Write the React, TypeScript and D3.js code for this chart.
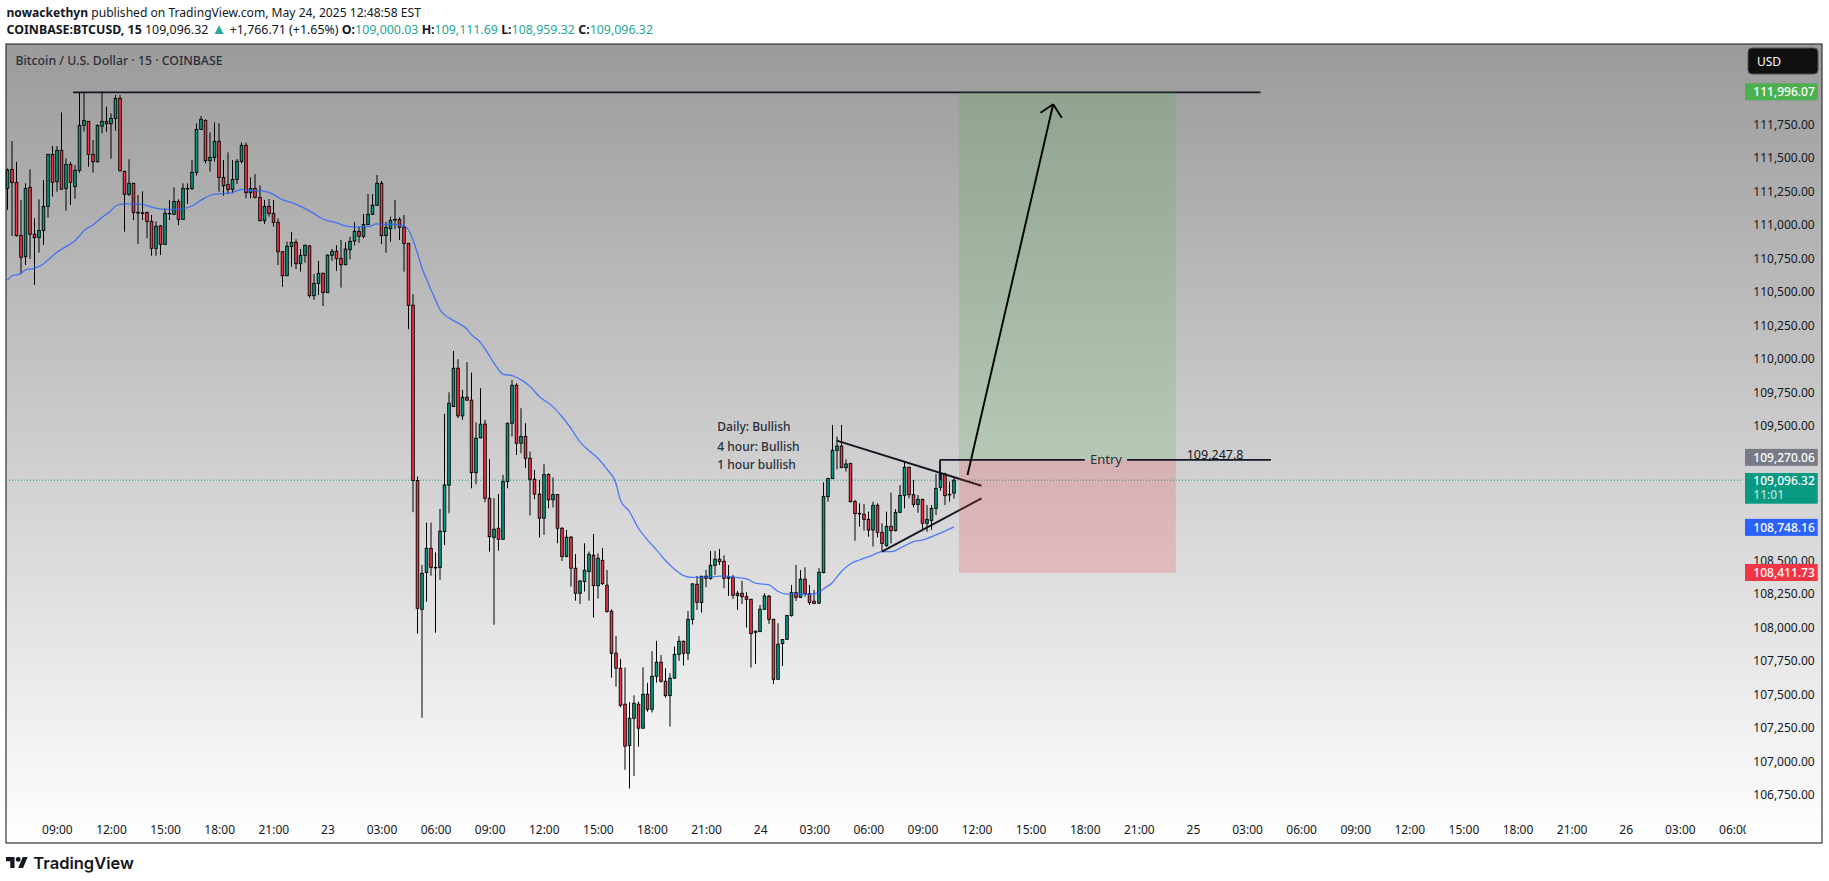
import { useEffect, useRef } from 'react';
import * as d3 from 'd3';

const width = 1829;
const height = 881;
const font = '"Noto Sans", sans-serif';

// 15 min candles
const opens = [111272,111414,111317,110922,110763,111280,110930,110905,110959,111138,111526,111322,111556,111272,111451,111285,111407,111742,111772,111526,111471,111735,111772,111754,111794,111943,111399,111228,111310,111093,111090,111093,111026,110825,110992,110855,111086,111079,111175,111041,111272,111272,111392,111712,111779,111479,111503,111623,111354,111302,111265,111339,111474,111593,111240,111272,111205,111031,111138,111086,111019,110800,110621,110838,110870,110711,110773,110843,110472,110564,110639,110495,110773,110803,110751,110703,110815,110880,110952,110915,111002,111079,111146,111310,110920,110972,111041,111041,110982,110862,110401,109094,108133,108409,108588,108446,108446,108713,109059,109645,109931,109576,109715,109693,109153,109412,109514,108962,108669,108738,108656,109086,109521,109804,109372,109422,109260,109103,108992,108813,109138,108950,108989,108738,108527,108671,108440,108253,108340,108415,108537,108310,108499,108313,108119,107806,107694,107426,107118,107321,107426,107247,107500,107388,107634,107739,107597,107490,107620,107798,107895,107806,108059,108320,108184,108380,108363,108462,108507,108492,108365,108372,108236,108253,108228,108208,107962,107967,108134,108231,108059,107612,107878,107910,108087,108258,108223,108358,108251,108194,108179,108407,108973,109108,109319,109351,109190,109222,108936,108849,108842,108804,108725,108909,108707,108608,108752,108720,108857,108983,109192,108988,108916,108953,108775,108797,108886,109043,109142,108991,109000.03];
const highs = [111421,111625,111471,111185,111310,111414,111049,111190,111335,111528,111588,111588,111839,111496,111471,111446,111986,111986,111774,111633,111749,111996,111881,111832,111968,111968,111404,111489,111312,111223,111250,111098,111074,111024,110999,111123,111185,111280,111190,111310,111310,111484,111757,111812,111787,111690,111764,111757,111484,111541,111484,111491,111615,111613,111354,111379,111295,111186,111193,111186,111049,110803,110875,110947,110892,110820,110853,110848,110634,110731,110644,110780,110820,110848,110887,110870,110912,111021,110987,111081,111230,111230,111372,111327,111024,111061,111186,111056,111074,110865,110483,109123,108464,108780,108780,108558,108882,109591,109752,110060,109998,109770,109976,109899,109528,109782,109546,109255,108962,108994,109136,109525,109844,109819,109633,109521,109310,109173,109099,109215,109148,109116,108992,108745,108725,108681,108546,108350,108626,108564,108695,108551,108589,108427,108134,107935,107764,107699,107441,107493,107446,107702,107585,107821,107898,107793,107694,107657,107856,107935,107900,108121,108328,108382,108382,108427,108569,108569,108584,108536,108464,108390,108271,108345,108261,108212,107975,108166,108253,108241,108062,108030,107912,108092,108315,108464,108427,108447,108315,108278,108440,109080,109114,109508,109421,109508,109252,109225,108950,108924,108919,108862,108936,108924,108775,108862,109003,108880,109060,109234,109197,109098,108986,108958,108911,108911,109142,109160,109152,109085,109111.69];
const lows = [111111,110917,110912,110639,110701,110746,110552,110793,110850,111054,111210,111248,111260,111106,111148,111195,111389,111695,111434,111389,111465,111682,111695,111494,111702,111397,110949,111215,111036,110857,111036,110900,110770,110770,110775,110850,111036,111074,110999,111038,111156,111260,111367,111708,111459,111397,111471,111248,111218,111230,111235,111305,111459,111198,111198,111198,111028,111007,111061,110987,110701,110539,110618,110689,110671,110651,110718,110457,110440,110477,110395,110492,110731,110656,110532,110700,110743,110848,110867,110900,111000,111074,111141,110857,110793,110875,110967,110887,110651,110222,108858,107952,107325,108190,108384,107959,108354,108614,108850,109642,109558,109546,109690,109036,109066,109410,108932,108563,108019,108570,108653,109036,109422,109285,109297,109186,108833,108954,108669,108689,108887,108892,108626,108494,108522,108303,108198,108174,108266,108198,108072,108213,108315,108109,107624,107557,107403,106936,106797,106891,107110,107244,107371,107364,107587,107587,107475,107259,107617,107749,107714,107756,108020,108129,108109,108298,108353,108390,108464,108290,108233,108211,108129,108174,107997,107699,107726,107965,108129,108025,107577,107610,107711,107905,108079,108196,108220,108228,108166,108174,108176,108402,108936,109104,109177,109188,109160,108930,108645,108750,108720,108675,108601,108670,108563,108601,108625,108715,108850,108886,108961,108894,108854,108720,108712,108725,108837,109018,108911,108936,108959.32];
const closes = [111409,111315,110920,110758,111272,110930,110905,110959,111138,111526,111317,111556,111267,111451,111317,111407,111742,111779,111526,111471,111742,111772,111754,111794,111943,111404,111228,111310,111093,111090,111088,111026,110825,110989,110855,111086,111084,111175,111041,111272,111270,111392,111712,111787,111479,111503,111623,111354,111292,111265,111339,111474,111593,111240,111272,111205,111031,111138,111084,111019,110800,110621,110840,110870,110711,110773,110848,110472,110564,110639,110495,110775,110803,110748,110703,110820,110877,110952,110915,111002,111079,111146,111310,110920,110982,111034,111039,110982,110862,110400,109094,108141,108402,108588,108446,108444,108716,109061,109670,109931,109576,109715,109693,109153,109409,109514,108962,108676,108731,108656,109086,109521,109804,109372,109422,109260,109103,108992,108813,109138,108950,108989,108738,108527,108671,108440,108253,108345,108425,108544,108310,108514,108325,108117,107806,107694,107418,107113,107321,107433,107247,107500,107388,107634,107739,107597,107490,107620,107798,107895,107806,108059,108323,108186,108380,108365,108462,108507,108489,108365,108375,108238,108253,108228,108208,107952,107970,108134,108233,108059,107612,107873,107908,108087,108258,108223,108358,108251,108184,108176,108410,108976,109108,109319,109351,109190,109217,108936,108847,108847,108804,108725,108909,108707,108625,108752,108720,108857,108983,109192,108988,108916,108953,108775,108804,108886,109035,109142,108981,108989,109096.32];

// moving average, read at these bars
const maBars = [0,1,3,4,6,8,9,11,13,15,16,17,19,21,23,24,26,28,30,32,34,36,38,41,43,46,48,50,52,54,56,59,61,63,66,68,70,73,75,77,80,82,84,86,88,89,90,91,92,93,94,95,96,97,99,102,103,105,106,108,109,110,112,114,116,118,121,123,125,127,129,131,133,135,136,138,140,142,144,146,148,150,152,155,159,161,164,166,169,171,173,175,178,180,181,183,185,187,189,192,194,196,199,201,203,206,208,210];
const maValues = [110589,110619,110636,110664,110676,110708,110738,110795,110838,110882,110917,110957,110999,111056,111106,111141,111156,111156,111153,111133,111118,111116,111118,111141,111185,111230,111233,111243,111265,111255,111255,111228,111188,111168,111123,111086,111044,111017,110992,110984,110987,111007,111004,111004,110992,110962,110888,110788,110677,110595,110515,110441,110366,110329,110286,110222,110180,110122,110073,109968,109919,109886,109876,109844,109794,109720,109645,109571,109484,109384,109317,109260,109178,109074,108949,108863,108738,108651,108577,108497,108433,108385,108371,108373,108383,108373,108361,108328,108316,108266,108246,108250,108245,108258,108285,108332,108414,108471,108501,108538,108563,108563,108606,108638,108650,108688,108717,108748.16];

const priceTicks = [111750,111500,111250,111000,110750,110500,110250,110000,109750,109500,108500,108250,108000,107750,107500,107250,107000,106750];
const timeLabels = ['09:00','12:00','15:00','18:00','21:00','23','03:00','06:00','09:00','12:00','15:00','18:00','21:00','24','03:00','06:00','09:00','12:00','15:00','18:00','21:00','25','03:00','06:00','09:00','12:00','15:00','18:00','21:00','26','03:00','06:00'];
const timeBars = timeLabels.map((_, k) => 11 + k * 12);

const priceLabels = [
  { text: '111,996.07', price: 111996.07, color: '#4caf50' },
  { text: '109,270.06', price: 109270.06, color: '#787b86' },
  { text: '108,748.16', price: 108748.16, color: '#2962ff' },
  { text: '108,411.73', price: 108411.73, color: '#f23645' },
];
const lastPrice = 109096.32;
const target = 111988;
const entry = 109247.8;
const stop = 108405;

const xScale = d3.scaleLinear().domain([0, 210]).range([7.3, 954]);
const yScale = d3.scaleLinear().domain([111750, 106750]).range([124.3, 794.85]);

export default function App() {
  const priceAxisRef = useRef<SVGGElement>(null);
  const timeAxisRef = useRef<SVGGElement>(null);

  useEffect(() => {
    const priceAxis = d3.axisRight(yScale).tickValues(priceTicks).tickSize(0).tickPadding(0)
      .tickFormat((d) => d3.format(',.2f')(Number(d)));
    const g = d3.select(priceAxisRef.current!);
    g.selectAll('*').remove();
    g.call(priceAxis as any);
    g.select('.domain').remove();
    g.attr('font-family', font).attr('font-size', 12).selectAll('text').attr('fill', '#131722');

    const timeAxis = d3.axisBottom(xScale).tickValues(timeBars).tickSize(0).tickPadding(0)
      .tickFormat((_, k) => timeLabels[k]);
    const t = d3.select(timeAxisRef.current!);
    t.selectAll('*').remove();
    t.call(timeAxis as any);
    t.select('.domain').remove();
    t.attr('font-family', font).attr('font-size', 12).selectAll('text').attr('fill', '#131722');
  }, []);

  const maPath = d3.line<number>()
    .x((d) => xScale(d))
    .y((_, k) => yScale(maValues[k]))
    .curve(d3.curveMonotoneX)(maBars);

  const segment = (b0: number, p0: number, b1: number, p1: number, w = 1.9, c = '#131722') => (
    <line x1={xScale(b0)} y1={yScale(p0)} x2={xScale(b1)} y2={yScale(p1)} stroke={c} strokeWidth={w} />
  );

  return (
    <svg width={width} height={height} style={{ position: 'absolute', left: 0, top: 0 }}>
      <defs>
        <linearGradient id="bg" x1="0" y1="0" x2="0" y2="1">
          <stop offset="0" stopColor="#9b9b9b" />
          <stop offset="1" stopColor="#ffffff" />
        </linearGradient>
        <clipPath id="timeClip"><rect x={6} y={800} width={1740} height={44} /></clipPath>
      </defs>
      <rect width={width} height={height} fill="#fff" />

      <text x={6.5} y={17} fontFamily={font} fontSize={12.1} fill="#131722">
        <tspan fontWeight={700}>nowackethyn</tspan> published on TradingView.com, May 24, 2025 12:48:58 EST
      </text>
      <text x={6.5} y={34} fontFamily={font} fontSize={12.4} fill="#131722">
        <tspan fontWeight={700}>COINBASE:BTCUSD, 15</tspan> 109,096.32 <tspan fill="#26a69a" fontSize={15}>▲</tspan> +1,766.71 (+1.65%){' '}
        <tspan fontWeight={700}>O:</tspan><tspan fill="#26a69a">109,000.03</tspan>{' '}
        <tspan fontWeight={700}>H:</tspan><tspan fill="#26a69a">109,111.69</tspan>{' '}
        <tspan fontWeight={700}>L:</tspan><tspan fill="#26a69a">108,959.32</tspan>{' '}
        <tspan fontWeight={700}>C:</tspan><tspan fill="#26a69a">109,096.32</tspan>
      </text>

      <rect x={6} y={44} width={1816} height={799} fill="url(#bg)" stroke="#333" strokeWidth={1.2} />
      <text x={15.5} y={65} fontFamily={font} fontWeight={500} fontSize={12.3} fill="#2a2e39">
        Bitcoin / U.S. Dollar · 15 · COINBASE
      </text>

      <line x1={6} x2={1742} y1={yScale(lastPrice)} y2={yScale(lastPrice)} stroke="#089981" strokeWidth={1} strokeDasharray="1 2" />

      <g>
        {opens.map((o, i) => {
          const c = closes[i];
          const x = Math.round(xScale(i) * 2) / 2;
          const top = yScale(Math.max(o, c));
          const bottom = yScale(Math.min(o, c));
          return (
            <g key={i}>
              <line x1={x} x2={x} y1={yScale(highs[i])} y2={yScale(lows[i])} stroke="#000" strokeWidth={1} />
              <rect x={x - 1.3} y={top} width={2.6} height={Math.max(bottom - top, 0.6)}
                fill={c >= o ? '#089981' : '#f23645'} stroke="#000" strokeWidth={0.9} />
            </g>
          );
        })}
      </g>
      <path d={maPath!} fill="none" stroke="#2962ff" strokeOpacity={0.8} strokeWidth={1.3} />

      {segment(14.6, target, 278, target)}
      {segment(184, 109391, 216.1, 109055)}
      {segment(194, 108563, 216.1, 108961)}
      {segment(206.9, entry, 206.9, lastPrice)}

      <rect x={xScale(211.1)} y={yScale(target)} width={xScale(259.2) - xScale(211.1)} height={yScale(entry) - yScale(target)} fill="#4caf50" fillOpacity={0.2} />
      <rect x={xScale(211.1)} y={yScale(entry)} width={xScale(259.2) - xScale(211.1)} height={yScale(stop) - yScale(entry)} fill="#f23645" fillOpacity={0.2} />

      {segment(206.9, entry, 239, entry)}
      {segment(248.4, entry, 280.3, entry)}
      <text x={xScale(243.7)} y={yScale(entry) + 4.5} textAnchor="middle" fontFamily={font} fontSize={13} fill="#2a2e39">Entry</text>
      <text x={1186.7} y={yScale(entry) - 0.5} fontFamily={font} fontSize={12.5} fill="#131722">109,247.8</text>

      {segment(213, 109135, 232, 111899, 1.9, '#000')}
      {segment(229.2, 111836, 232, 111899, 1.9, '#000')}
      {segment(233.9, 111799, 232, 111899, 1.9, '#000')}

      <text x={717.3} y={431} fontFamily={font} fontWeight={500} fontSize={12} fill="#2a2e39">Daily: Bullish</text>
      <text x={717.3} y={451} fontFamily={font} fontWeight={500} fontSize={12} fill="#2a2e39">4 hour: Bullish</text>
      <text x={717.3} y={468.5} fontFamily={font} fontWeight={500} fontSize={12} fill="#2a2e39">1 hour bullish</text>

      <g ref={priceAxisRef} transform="translate(1753.3,0)" />
      <g clipPath="url(#timeClip)">
        <g ref={timeAxisRef} transform="translate(0,825)" />
      </g>

      <rect x={1748} y={48} width={70} height={26} rx={4} fill="#0f0f0f" stroke="#555" />
      <text x={1757} y={66} fontFamily={font} fontSize={12} fill="#fff">USD</text>

      {priceLabels.map((l) => (
        <g key={l.text}>
          <rect x={1745} y={yScale(l.price) - 8} width={72.7} height={17} fill={l.color} />
          <text x={1753.3} y={yScale(l.price) + 5} fontFamily={font} fontWeight={500} fontSize={12} fill="#fff">{l.text}</text>
        </g>
      ))}
      <rect x={1745} y={473} width={72.7} height={30.7} fill="#089981" />
      <text x={1753.3} y={485} fontFamily={font} fontWeight={500} fontSize={12} fill="#fff">109,096.32</text>
      <text x={1753.3} y={499} fontFamily={font} fontWeight={500} fontSize={12} fill="#b5e0d6">11:01</text>

      <path transform="translate(6,854.5) scale(0.61)" fill="#131722"
        d="M14 22H7V11H0V4h14v18zM28 22h-8l7.5-18h8L28 22z" />
      <circle cx={6 + 20 * 0.61} cy={854.5 + 8 * 0.61} r={4 * 0.61} fill="#131722" />
      <text x={33.3} y={868.5} fontFamily="Inter, sans-serif" fontWeight={600} fontSize={16.5} fill="#131722">TradingView</text>
    </svg>
  );
}
